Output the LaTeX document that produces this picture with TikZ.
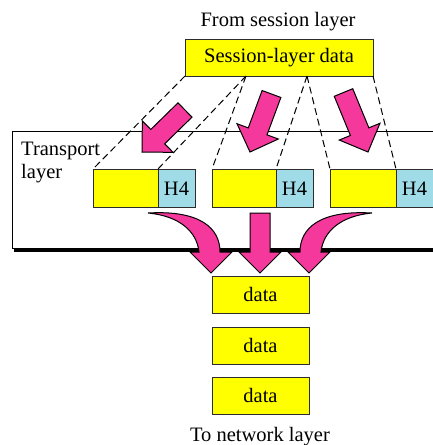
\documentclass[tikz,border=0pt]{standalone}
\usepackage{fontspec}
\setmainfont{Liberation Serif}
\usetikzlibrary{calc}
\definecolor{segyellow}{RGB}{255,255,0}
\definecolor{hblue}{RGB}{160,220,232}
\definecolor{apink}{RGB}{244,56,156}
\definecolor{edge}{RGB}{45,45,45}
\tikzset{
  txt/.style={font=\fontsize{20.5}{22}\selectfont, inner sep=0pt},
  ybox/.style={fill=segyellow, draw=edge, line width=1pt},
  bbox/.style={fill=hblue, draw=edge, line width=1pt},
  seg/.style={dashed, dash pattern=on 7pt off 4pt, line width=1pt},
  parrow/.style={fill=apink, draw=black, line width=1pt, line join=miter},
}
\newcommand\blockarr[2]{%
  \coordinate (hb) at ($(#2)!22pt!(#1)$);
  \draw[parrow] ($(#1)!10pt!90:(#2)$) -- ($(hb)!10pt!90:(#2)$) -- ($(hb)!22pt!90:(#2)$)
    -- (#2) -- ($(hb)!22pt!-90:(#2)$) -- ($(hb)!10pt!-90:(#2)$) -- ($(#1)!10pt!-90:(#2)$) -- cycle;}
\begin{document}
\begin{tikzpicture}[x=1pt,y=-1pt]
\useasboundingbox (0,0) rectangle (433,445);
\clip (0,0) rectangle (433,445);
% transport layer box with shadow
\fill[black] (14,134) rectangle (450,251.5);
\filldraw[fill=white, draw=black, line width=0.9pt] (12,131) rectangle (448,248);
\node[txt, anchor=base west] (tl1) at (21,155) {Transport};
\node[txt, anchor=base west] (tl2) at (21,178) {layer};
% titles
\node[txt, anchor=base] (from) at (278,26) {From session layer};
\node[txt, anchor=base] (to) at (260,441) {To network layer};
% session data
\node[ybox, minimum width=188pt, minimum height=37pt, inner sep=0pt] (sess) at (279,57.5) {};
\node[txt] at (279,58) {Session-layer data};
% segments
\foreach \i/\xa/\xb/\xc in {1/93/158/195, 2/212/276/313, 3/330/396/433}{
  \path[ybox] (\xa,169) rectangle (\xb,207);
  \path[bbox] (\xb,169) rectangle (\xc,207);
  \node[txt] (h\i) at ({(\xb+\xc)/2},188.5) {H4};
  \coordinate (sl\i) at (\xa,169);
  \coordinate (sm\i) at (\xb,169);
}
\coordinate (s0) at (185,76);
\coordinate (s1) at (246,76);
\coordinate (s2) at (307,76);
\coordinate (s3) at (373,76);
\draw[seg] (s0) -- (sl1);
\draw[seg] (s1) -- (sm1);
\draw[seg] (s1) -- (sl2);
\draw[seg] (s2) -- (sm2);
\draw[seg] (s2) -- (sl3);
\draw[seg] (s3) -- (sm3);
% block arrows
\coordinate (a1t) at (185,110); \coordinate (a1h) at (142,152);
\coordinate (a2t) at (271.5,94); \coordinate (a2h) at (250,152);
\coordinate (a3t) at (343.5,92.5); \coordinate (a3h) at (368,152);
\blockarr{a1t}{a1h}
\blockarr{a2t}{a2h}
\blockarr{a3t}{a3h}
% curved arrows
\draw[parrow] (148,213) .. controls (200,210) and (220,228) .. (220,252)
  -- (232,252) -- (211,273) -- (190,252) -- (199,252)
  .. controls (197,232) and (180,216) .. (148,213) -- cycle;
\draw[parrow] (372,213) .. controls (320,210) and (300,228) .. (300,252)
  -- (288,252) -- (309,273) -- (330,252) -- (321,252)
  .. controls (323,232) and (340,216) .. (372,213) -- cycle;
\draw[parrow] (250,213) -- (270,213) -- (270,252) -- (281,252) -- (260,273)
  -- (239,252) -- (250,252) -- cycle;
% data boxes
\foreach \i/\ya/\yb in {1/276/313, 2/327/364, 3/377/414}{
  \path[ybox] (212,\ya) rectangle (309,\yb);
  \node[txt] (d\i) at (260.5,{(\ya+\yb)/2}) {data};
}
\end{tikzpicture}
\end{document}
